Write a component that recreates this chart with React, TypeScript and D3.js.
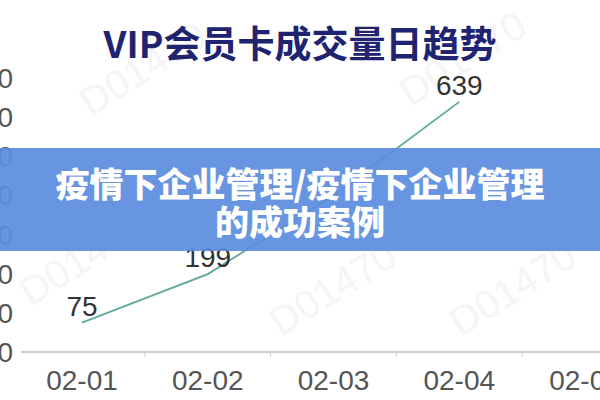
import React, { useEffect, useRef } from 'react';
import * as d3 from 'd3';

const dates = ['02-01', '02-02', '02-03', '02-04', '02-05'];
const volumes = [75, 199, 400, 639];
const yTicks = [0, 100, 200, 300, 400, 500, 600, 700];
const chartTitle = 'VIP会员卡成交量日趋势';
const bannerLines = ['疫情下企业管理/疫情下企业管理', '的成功案例'];
const watermarkText = 'D01470';

const App: React.FC = () => {
    const ref = useRef<SVGSVGElement>(null);

    useEffect(() => {
        const svg = d3.select(ref.current);
        svg.selectAll('*').remove();

        const x = d3.scalePoint<string>()
            .domain(dates)
            .range([82, 585]);

        const y = d3.scaleLinear()
            .domain([0, 700])
            .range([352, 78]);

        // faint watermarks
        const marks = [[150, 80], [470, 70], [340, 300], [520, 300], [90, 270]];
        svg.append('g')
            .selectAll('text')
            .data(marks).enter()
            .append('text')
            .attr('transform', d => `translate(${d[0]}, ${d[1]}) rotate(-32)`)
            .attr('text-anchor', 'middle')
            .attr('font-family', 'Liberation Sans, sans-serif')
            .attr('font-size', 40)
            .attr('fill', '#f5f5f5')
            .text(watermarkText);

        // title
        svg.append('text')
            .attr('x', 300)
            .attr('y', 58)
            .attr('text-anchor', 'middle')
            .attr('font-family', 'Noto Sans CJK SC, sans-serif')
            .attr('font-weight', 'bold')
            .attr('font-size', 37)
            .attr('fill', '#20236f')
            .text(chartTitle);

        // y labels, cut off at the left edge
        svg.append('g')
            .selectAll('text')
            .data(yTicks).enter()
            .append('text')
            .attr('x', 13)
            .attr('y', d => y(d) + 10)
            .attr('text-anchor', 'end')
            .attr('font-family', 'Liberation Sans, sans-serif')
            .attr('font-size', 28)
            .attr('fill', '#555')
            .text(d => d);

        // x axis
        svg.append('line')
            .attr('x1', 21)
            .attr('x2', 600)
            .attr('y1', y(0))
            .attr('y2', y(0))
            .attr('stroke', '#999')
            .attr('stroke-width', 1.2);

        const step = x.step();
        svg.append('g')
            .selectAll('line')
            .data(dates.slice(0, -1)).enter()
            .append('line')
            .attr('x1', d => (x(d) as number) + step / 2)
            .attr('x2', d => (x(d) as number) + step / 2)
            .attr('y1', y(0))
            .attr('y2', y(0) + 5)
            .attr('stroke', '#ccc');

        svg.append('g')
            .selectAll('text')
            .data(dates).enter()
            .append('text')
            .attr('x', d => x(d) as number)
            .attr('y', 390)
            .attr('text-anchor', 'middle')
            .attr('font-family', 'Liberation Sans, sans-serif')
            .attr('font-size', 28)
            .attr('fill', '#555')
            .text(d => d);

        // line
        const line = d3.line<number>()
            .x((_, i) => x(dates[i]) as number)
            .y(d => y(d));

        svg.append('path')
            .attr('d', line(volumes))
            .attr('fill', 'none')
            .attr('stroke', '#5fa89a')
            .attr('stroke-width', 1.8);

        // value labels (the 02-03 one is hidden under the banner)
        svg.append('g')
            .selectAll('text')
            .data(volumes.map((v, i) => ({ v, i })).filter(d => d.i !== 2)).enter()
            .append('text')
            .attr('x', d => x(dates[d.i]) as number)
            .attr('y', d => y(d.v) - 7)
            .attr('text-anchor', 'middle')
            .attr('font-family', 'Liberation Sans, sans-serif')
            .attr('font-size', 28)
            .attr('fill', '#333')
            .text(d => d.v);

        // banner over the chart
        svg.append('rect')
            .attr('x', 0)
            .attr('y', 148)
            .attr('width', 600)
            .attr('height', 103)
            .attr('fill', '#5b8ddf')
            .attr('opacity', 0.93);

        svg.append('g')
            .selectAll('text')
            .data(bannerLines).enter()
            .append('text')
            .attr('x', 300)
            .attr('y', (_, i) => 197 + i * 38)
            .attr('text-anchor', 'middle')
            .attr('font-family', 'Noto Sans CJK SC, sans-serif')
            .attr('font-weight', 900)
            .attr('font-size', 34)
            .attr('fill', '#fff')
            .text(d => d);
    }, []);

    return (
        <svg ref={ref} width={600} height={400}
            style={{ position: 'absolute', left: 0, top: 0, background: '#fff' }}>
        </svg>
    );
};

export default App;
